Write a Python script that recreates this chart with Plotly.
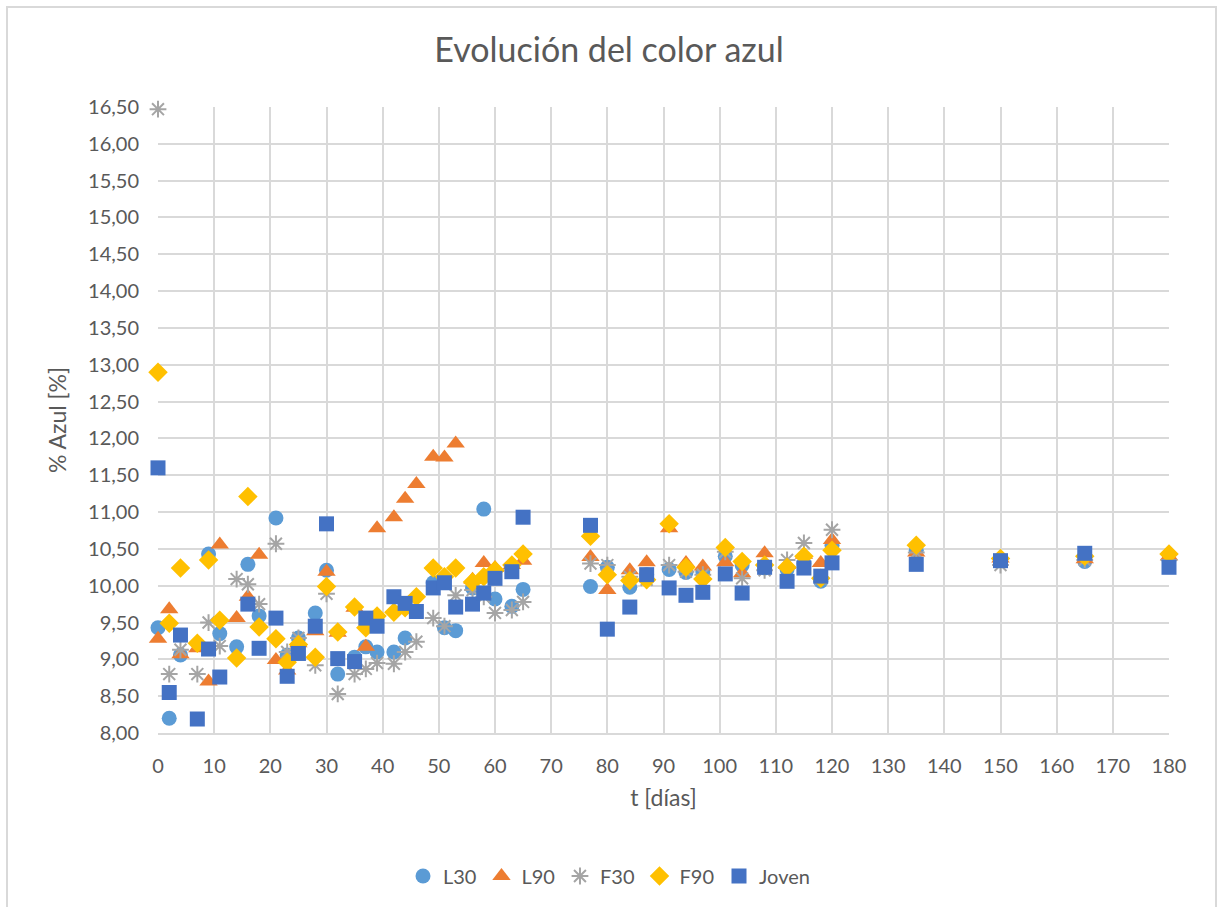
import plotly.graph_objects as go

t_l30 = [0, 2, 4, 9, 11, 14, 16, 18, 21, 23, 25, 28, 30, 32, 35, 37, 39, 42, 44, 49, 51, 53, 56, 58, 60, 63, 65,
         77, 80, 84, 87, 91, 94, 97, 101, 104, 108, 112, 115, 118, 120, 135, 150, 165, 180]
l30 = [9.43, 8.20, 9.06, 10.43, 9.35, 9.17, 10.29, 9.59, 10.92, 9.06, 9.29, 9.63, 10.21, 8.80, 9.03, 9.17, 9.10,
       9.10, 9.29, 10.04, 9.43, 9.39, 9.97, 11.04, 9.82, 9.72, 9.95, 9.99, 10.25, 9.98, 10.15, 10.22, 10.18, 10.19,
       10.40, 10.28, 10.24, 10.22, 10.30, 10.06, 10.55, 10.48, 10.35, 10.33, 10.35]

t_full = [0, 2, 4, 7, 9, 11, 14, 16, 18, 21, 23, 25, 28, 30, 32, 35, 37, 39, 42, 44, 46, 49, 51, 53, 56, 58, 60, 63,
          65, 77, 80, 84, 87, 91, 94, 97, 101, 104, 108, 112, 115, 118, 120, 135, 150, 165, 180]
l90 = [9.28, 9.68, 9.07, 9.15, 8.70, 10.56, 9.56, 9.85, 10.42, 8.99, 8.85, 9.22, 9.38, 10.19, 9.36, 9.70, 9.17,
       10.78, 10.93, 11.18, 11.38, 11.75, 11.74, 11.93, 10.08, 10.31, 10.24, 10.28, 10.34, 10.39, 9.94, 10.21, 10.32,
       10.78, 10.31, 10.26, 10.32, 10.17, 10.44, 10.28, 10.42, 10.31, 10.62, 10.45, 10.37, 10.36, 10.40]
f30 = [16.47, 8.80, 9.13, 8.80, 9.50, 9.18, 10.09, 10.02, 9.75, 10.57, 9.10, 9.29, 8.92, 9.89, 8.53, 8.80, 8.87,
       8.95, 8.94, 9.10, 9.24, 9.56, 9.45, 9.87, 9.94, 9.85, 9.63, 9.67, 9.78, 10.30, 10.28, 10.12, 10.08, 10.28,
       10.19, 10.15, 10.46, 10.10, 10.21, 10.35, 10.58, 10.10, 10.76, 10.45, 10.28, 10.35, 10.35]
f90 = [12.90, 9.49, 10.24, 9.22, 10.35, 9.53, 9.02, 11.21, 9.44, 9.28, 8.96, 9.20, 9.03, 9.99, 9.37, 9.71, 9.43,
       9.59, 9.64, 9.70, 9.85, 10.24, 10.12, 10.24, 10.05, 10.12, 10.21, 10.28, 10.43, 10.67, 10.15, 10.07, 10.08,
       10.84, 10.25, 10.09, 10.52, 10.33, 10.28, 10.25, 10.40, 10.10, 10.48, 10.55, 10.37, 10.40, 10.43]

t_joven = [0, 2, 4, 7, 9, 11, 16, 18, 21, 23, 25, 28, 30, 32, 35, 37, 39, 42, 44, 46, 49, 51, 53, 56, 58, 60, 63,
           65, 77, 80, 84, 87, 91, 94, 97, 101, 104, 108, 112, 115, 118, 120, 135, 150, 165, 180]
joven = [11.60, 8.55, 9.33, 8.19, 9.14, 8.76, 9.75, 9.15, 9.56, 8.77, 9.08, 9.45, 10.84, 9.01, 8.97, 9.56, 9.45,
         9.85, 9.76, 9.65, 9.97, 10.04, 9.71, 9.75, 9.90, 10.10, 10.19, 10.93, 10.82, 9.41, 9.71, 10.15, 9.97, 9.87,
         9.91, 10.16, 9.90, 10.25, 10.06, 10.24, 10.13, 10.31, 10.29, 10.34, 10.44, 10.25]

FONT = "Lato, 'Open Sans', sans-serif"
GRAY = "#595959"

fig = go.Figure()
fig.add_trace(go.Scatter(x=t_l30, y=l30, mode="markers", name="L30", cliponaxis=False,
                         marker=dict(symbol="circle", size=15, color="#5B9BD5")))
fig.add_trace(go.Scatter(x=t_full, y=l90, mode="markers", name="L90", cliponaxis=False,
                         marker=dict(symbol="triangle-up", size=16, color="#ED7D31")))
fig.add_trace(go.Scatter(x=t_full, y=f30, mode="markers", name="F30", cliponaxis=False,
                         marker=dict(symbol="asterisk-open", size=14, color="#A5A5A5",
                                     line=dict(color="#A5A5A5", width=2))))
fig.add_trace(go.Scatter(x=t_full, y=f90, mode="markers", name="F90", cliponaxis=False,
                         marker=dict(symbol="diamond", size=15, color="#FFC000")))
fig.add_trace(go.Scatter(x=t_joven, y=joven, mode="markers", name="Joven", cliponaxis=False,
                         marker=dict(symbol="square", size=15, color="#4472C4")))

fig.update_layout(
    width=1218, height=907,
    paper_bgcolor="white", plot_bgcolor="white",
    separators=",.",
    margin=dict(l=158, r=49, t=107, b=174, autoexpand=False),
    font=dict(family=FONT, color=GRAY, size=18),
    title=dict(text="Evolución del color azul", x=0.5, xref="container", xanchor="center",
               y=1 - 50 / 907, yref="container", yanchor="middle",
               font=dict(size=34, color=GRAY, family=FONT)),
    xaxis=dict(range=[0, 180], dtick=10, tick0=0, showgrid=True, gridcolor="#D9D9D9", gridwidth=1.5,
               zeroline=False, showline=True, linecolor="#D9D9D9", linewidth=1.5,
               ticks="", ticklabelstandoff=14, tickfont=dict(size=20, color=GRAY),
               title=dict(text="t [días]", font=dict(size=23, color=GRAY), standoff=14)),
    yaxis=dict(range=[8, 16.5], dtick=0.5, tick0=8, tickformat=".2f", showgrid=True, gridcolor="#D9D9D9",
               gridwidth=1.5, zeroline=False, showline=False, ticks="", ticklabelstandoff=18,
               tickfont=dict(size=20, color=GRAY),
               title=dict(text="% Azul [%]", font=dict(size=23, color=GRAY), standoff=14)),
    legend=dict(orientation="h", x=0.5, xref="container", xanchor="center",
                y=1 - 876 / 907, yref="container", yanchor="middle",
                font=dict(size=20, color=GRAY), itemwidth=30, tracegroupgap=0),
    showlegend=True,
)

fig.add_shape(type="rect", xref="paper", yref="paper",
              x0=-151 / 1011, x1=1 + 47 / 1011, y0=-180 / 626, y1=1 + 100 / 626,
              line=dict(color="#D9D9D9", width=2), fillcolor="rgba(0,0,0,0)", layer="below")

fig.write_html("out.html", post_script="document.body.style.margin='0';",
               config={"displayModeBar": False})
